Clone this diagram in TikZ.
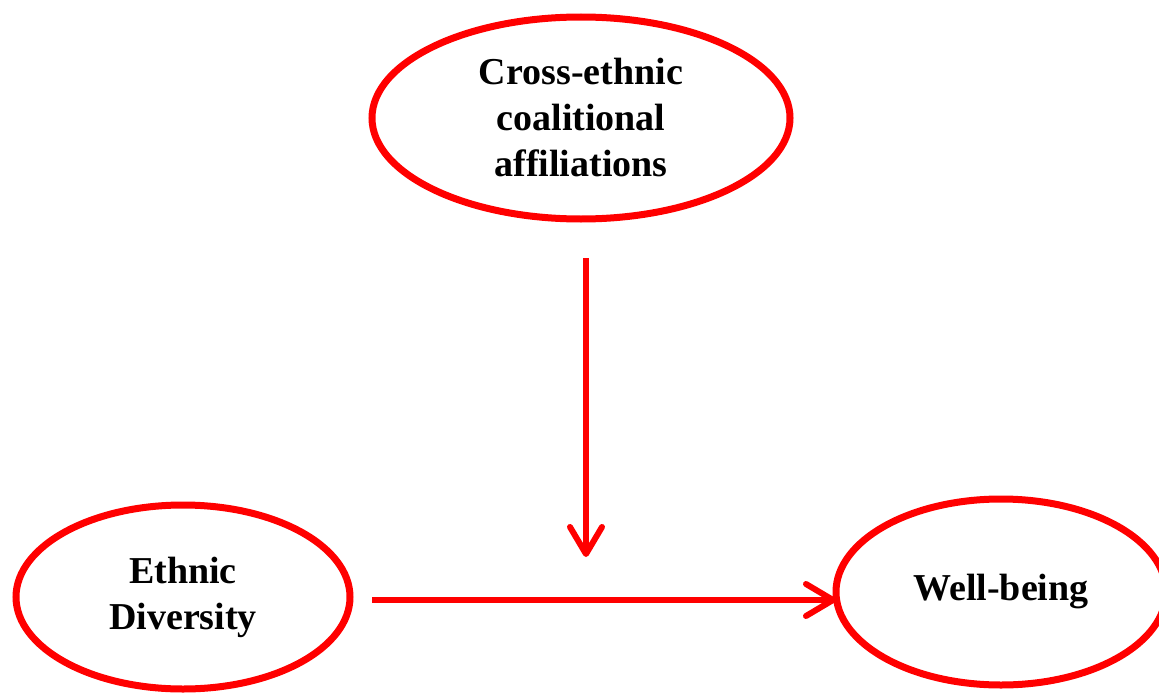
\documentclass[tikz,border=0pt]{standalone}
\usepackage{fontspec}
\setmainfont{Liberation Serif}
\usetikzlibrary{shapes.geometric,arrows.meta}
\definecolor{myred}{RGB}{255,0,0}
\tikzset{
  oval/.style={ellipse, draw=myred, line width=7pt, inner sep=0pt, align=center,
    font=\fontsize{38}{46}\selectfont\bfseries, text=black},
  arr/.style={draw=myred, line width=6pt,
    -{Straight Barb[length=27pt, width=32pt, line cap=round, line join=round]}}
}
\begin{document}
\begin{tikzpicture}[x=1pt,y=-1pt]
\clip (0,0) rectangle (1159,693);
\fill[white] (0,0) rectangle (1159,693);
\node[oval, minimum width=418pt, minimum height=202pt] (ce) at (581,118) {Cross-ethnic\\coalitional\\affiliations};
\node[oval, minimum width=334pt, minimum height=184pt] (ed) at (183,597) {Ethnic\\Diversity};
\node[oval, minimum width=330pt, minimum height=186pt] (wb) at (1001,592) {Well-being};
\coordinate (vtop) at (586,258);
\coordinate (vend) at (586,557);
\coordinate (hstart) at (372,600);
\coordinate (hend) at (836,600);
\draw[arr] (vtop) -- (vend);
\draw[arr] (hstart) -- (hend);
\end{tikzpicture}
\end{document}
